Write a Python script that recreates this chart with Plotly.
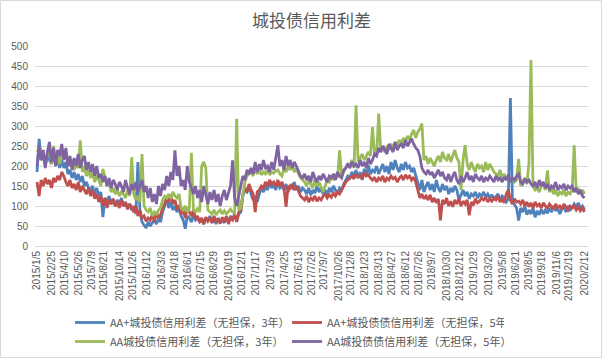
import pandas as pd
import plotly.graph_objects as go

start_date = "2015-01-05"

aa_plus_3y = [  # AA+城投债信用利差（无担保，3年）
    185, 268, 215, 225, 200, 230, 215, 205, 235, 200, 220, 195, 215,
    195, 210, 180, 190, 170, 185, 165, 180, 160, 175, 150, 160, 145,
    140, 150, 130, 145, 125, 135, 72, 120, 110, 125, 105, 118, 100,
    115, 105, 120, 100, 110, 95, 105, 90, 100, 80, 210, 85, 60,
    52, 45, 60, 50, 58, 65, 55, 68, 60, 85, 100, 118, 95,
    110, 90, 100, 85, 95, 75, 65, 43, 75, 70, 60, 77, 65,
    70, 60, 65, 55, 70, 62, 75, 58, 68, 55, 70, 60, 65,
    58, 70, 60, 75, 65, 78, 62, 80, 85, 125, 140, 135, 150,
    130, 115, 125, 110, 130, 145, 135, 150, 140, 160, 145, 155, 140,
    160, 145, 150, 140, 155, 135, 150, 145, 160, 140, 150, 135, 145,
    140, 130, 145, 127, 140, 132, 150, 135, 145, 130, 140, 127, 145,
    135, 150, 140, 130, 145, 140, 155, 165, 175, 170, 185, 175, 190,
    170, 185, 165, 193, 175, 202, 180, 190, 185, 200, 180, 195, 205,
    185, 200, 180, 210, 190, 215, 195, 185, 205, 190, 210, 195, 200,
    185, 195, 175, 160, 140, 165, 135, 150, 160, 140, 155, 135, 165,
    145, 135, 155, 140, 150, 130, 145, 135, 150, 140, 115, 130, 140,
    125, 135, 118, 130, 125, 135, 120, 130, 125, 135, 122, 130, 120,
    128, 118, 125, 130, 115, 125, 120, 110, 118, 370, 112, 105, 95,
    64, 95, 85, 100, 78, 90, 80, 95, 72, 88, 78, 92, 80,
    90, 82, 95, 85, 100, 88, 95, 80, 92, 98, 85, 100, 90,
    95, 105, 98, 108, 95, 100, 90,
]

aa_plus_5y = [  # AA+城投债债信用利差（无担保，5年）
    160, 125, 165, 150, 170, 155, 165, 145, 170, 160, 175, 165, 185,
    175, 160, 150, 165, 145, 155, 140, 160, 135, 150, 140, 130, 145,
    125, 140, 118, 130, 110, 125, 100, 120, 95, 115, 105, 118, 100,
    110, 95, 115, 100, 108, 92, 105, 95, 85, 100, 75, 90, 70,
    75, 62, 70, 65, 80, 60, 85, 70, 78, 95, 105, 120, 110,
    127, 105, 115, 95, 100, 80, 90, 70, 95, 85, 75, 90, 68,
    75, 60, 70, 55, 72, 62, 70, 58, 75, 60, 68, 56, 72,
    60, 75, 55, 70, 65, 80, 60, 85, 90, 130, 145, 135, 155,
    140, 130, 85, 135, 140, 150, 145, 160, 150, 165, 155, 160, 150,
    165, 150, 160, 145, 98, 150, 145, 155, 140, 150, 135, 125, 120,
    115, 125, 110, 120, 115, 125, 112, 120, 115, 125, 130, 120, 128,
    122, 132, 125, 135, 130, 140, 150, 160, 165, 170, 175, 168, 180,
    172, 175, 168, 185, 175, 178, 170, 165, 172, 160, 170, 165, 175,
    160, 170, 165, 175, 168, 172, 160, 170, 175, 165, 178, 170, 175,
    165, 172, 160, 140, 120, 130, 118, 125, 115, 128, 110, 120, 108,
    118, 64, 115, 105, 120, 100, 112, 98, 115, 105, 118, 100, 112,
    105, 115, 77, 110, 102, 118, 108, 112, 120, 115, 122, 110, 118,
    112, 120, 115, 125, 110, 118, 108, 130, 140, 115, 105, 118, 110,
    112, 105, 115, 100, 110, 98, 108, 95, 110, 100, 105, 95, 108,
    100, 95, 105, 98, 92, 105, 95, 100, 92, 105, 98, 90, 100,
    95, 100, 90, 98, 88, 95, 85,
]

aa_3y = [  # AA城投债信用利差（无担保，3年）
    235, 245, 240, 230, 215, 225, 240, 205, 250, 215, 230, 205, 235,
    220, 230, 210, 200, 215, 190, 205, 195, 264, 185, 200, 175, 190,
    170, 185, 160, 175, 165, 150, 193, 170, 150, 160, 135, 145, 130,
    140, 125, 135, 130, 120, 140, 125, 222, 130, 115, 125, 110, 230,
    100, 90, 85, 95, 75, 85, 80, 90, 95, 115, 125, 120, 130,
    118, 135, 125, 120, 130, 95, 90, 100, 85, 95, 233, 90, 85,
    95, 85, 200, 210, 195, 90, 85, 80, 90, 78, 85, 90, 80,
    88, 80, 85, 92, 85, 82, 318, 90, 95, 130, 160, 175, 180,
    185, 175, 195, 180, 190, 178, 185, 180, 190, 178, 185, 182, 188,
    190, 180, 175, 195, 185, 200, 190, 202, 185, 195, 180, 170, 165,
    160, 150, 165, 155, 145, 168, 150, 160, 145, 135, 150, 165, 160,
    175, 165, 180, 170, 239, 175, 185, 195, 205, 200, 215, 195, 352,
    210, 220, 230, 215, 225, 235, 225, 297, 230, 225, 331, 240, 245,
    235, 250, 240, 255, 245, 260, 250, 265, 255, 270, 260, 275, 265,
    280, 290, 270, 285, 293, 306, 215, 225, 205, 220, 210, 200, 215,
    225, 210, 235, 220, 215, 230, 210, 225, 240, 220, 210, 140, 215,
    252, 205, 190, 210, 195, 185, 205, 195, 200, 185, 210, 190, 205,
    195, 185, 180, 175, 190, 170, 180, 165, 175, 160, 170, 160, 165,
    218, 150, 160, 170, 155, 206, 465, 150, 140, 145, 135, 150, 155,
    140, 189, 135, 145, 130, 140, 125, 135, 130, 140, 125, 135, 130,
    140, 252, 135, 145, 130, 140, 130,
]

aa_5y = [  # AA城投债债信用利差（无担保，5年）
    200, 250, 215, 240, 195, 235, 260, 210, 245, 200, 240, 225, 255,
    215, 245, 200, 225, 190, 220, 200, 230, 195, 215, 225, 190, 210,
    185, 205, 175, 200, 170, 180, 160, 175, 150, 170, 145, 165, 155,
    140, 160, 150, 135, 165, 145, 130, 155, 140, 160, 135, 150, 165,
    135, 150, 120, 145, 110, 130, 105, 150, 125, 155, 140, 175, 150,
    185, 165, 239, 175, 200, 150, 165, 140, 200, 160, 145, 130, 150,
    120, 140, 110, 150, 125, 105, 135, 115, 140, 110, 130, 100, 125,
    140, 115, 135, 150, 214, 120, 100, 130, 150, 175, 165, 190, 180,
    195, 180, 210, 185, 205, 190, 215, 195, 200, 185, 210, 190, 220,
    252, 200, 215, 190, 225, 200, 215, 195, 210, 200, 185, 175, 170,
    180, 165, 175, 160, 185, 170, 160, 175, 165, 180, 170, 160, 175,
    170, 180, 165, 185, 175, 170, 190, 195, 205, 195, 210, 200, 205,
    195, 215, 200, 210, 195, 220, 205, 215, 230, 225, 245, 235, 250,
    240, 230, 255, 245, 235, 260, 240, 250, 255, 245, 265, 250, 260,
    268, 255, 245, 240, 225, 195, 185, 180, 190, 178, 185, 170, 180,
    190, 175, 185, 170, 165, 180, 160, 175, 185, 165, 155, 175, 160,
    170, 185, 165, 175, 160, 180, 170, 165, 175, 160, 170, 165, 175,
    168, 160, 175, 165, 170, 160, 172, 165, 178, 160, 170, 165, 175,
    180, 160, 155, 168, 160, 165, 155, 150, 160, 145, 165, 150, 160,
    145, 155, 140, 150, 145, 160, 140, 150, 145, 155, 140, 150, 145,
    150, 135, 145, 130, 140, 125, 120,
]

series_names = [
    "AA+城投债信用利差（无担保，3年）",
    "AA+城投债债信用利差（无担保，5年）",
    "AA城投债信用利差（无担保，3年）",
    "AA城投债债信用利差（无担保，5年）",
]
series_colors = ["#4F81BD", "#C0504D", "#9BBB59", "#8064A2"]

tick_labels = [
    "2015/1/5", "2015/2/25", "2015/4/10", "2015/5/26", "2015/7/9", "2015/8/21",
    "2015/10/14", "2015/11/26", "2016/1/12", "2016/3/3", "2016/4/18", "2016/6/1",
    "2016/7/15", "2016/8/29", "2016/10/19", "2016/12/1", "2017/1/17", "2017/3/9",
    "2017/4/25", "2017/6/13", "2017/7/26", "2017/9/7", "2017/10/26", "2017/12/8",
    "2018/1/23", "2018/3/13", "2018/4/27", "2018/6/12", "2018/7/26", "2018/9/7",
    "2018/10/30", "2018/12/12", "2019/1/29", "2019/3/20", "2019/5/8", "2019/6/21",
    "2019/8/5", "2019/9/18", "2019/11/6", "2019/12/19", "2020/2/12",
]

all_series = [aa_plus_3y, aa_plus_5y, aa_3y, aa_5y]
lengths = [len(s) for s in all_series]
if len(set(lengths)) != 1:
    raise ValueError(f"length mismatch: {lengths}")

dates = pd.date_range(start_date, periods=lengths[0], freq="7D")
tick_vals = [pd.Timestamp(t.replace("/", "-")) for t in tick_labels]

fig = go.Figure()
for name, color, vals in zip(series_names, series_colors, all_series):
    fig.add_trace(go.Scatter(
        x=dates, y=vals, mode="lines", name=name,
        line=dict(color=color, width=2.8),
    ))

W, H = 602, 358
ml, mr, mt, mb = 35, 14, 46, 112
pw, ph = W - ml - mr, H - mt - mb

fig.update_layout(
    template="none",
    width=W, height=H,
    margin=dict(l=ml, r=mr, t=mt, b=mb, autoexpand=False),
    paper_bgcolor="white", plot_bgcolor="white",
    title=dict(text="城投债信用利差", x=0.5, xanchor="center", xref="paper",
               y=1 - 21 / H, yanchor="middle",
               font=dict(family="Noto Sans CJK SC", size=17, color="#595959")),
    font=dict(family="Noto Sans CJK SC", color="#595959"),
    showlegend=True,
    legend=dict(orientation="h", x=(70 - ml) / pw, xanchor="left",
                y=-(308 - (mt + ph)) / ph, yanchor="top",
                font=dict(family="Noto Sans CJK SC", size=11, color="#595959"),
                entrywidth=172, entrywidthmode="pixels",
                bgcolor="rgba(0,0,0,0)"),
    xaxis=dict(type="date", range=["2014-12-29", "2020-02-22"], automargin=False,
               tickmode="array", tickvals=tick_vals, ticktext=tick_labels,
               tickangle=-90, tickfont=dict(family="Liberation Sans", size=10, color="#595959"),
               showgrid=False, showline=True, linecolor="#D9D9D9", linewidth=1,
               zeroline=False, ticks=""),
    yaxis=dict(range=[0, 500], dtick=50, tick0=0, automargin=False,
               tickfont=dict(family="Liberation Sans", size=10, color="#595959"),
               showgrid=True, gridcolor="#D9D9D9", gridwidth=1,
               zeroline=False, showline=False, ticks="", ticklabelstandoff=6),
    shapes=[dict(type="rect", xref="paper", yref="paper",
                 x0=(0.5 - ml) / pw, x1=(W - 0.5 - ml) / pw,
                 y0=-(H - 0.5 - (mt + ph)) / ph, y1=(mt + ph - 0.5) / ph,
                 line=dict(color="#D9D9D9", width=1), layer="below")],
)

fig.write_html(
    "out.html",
    config={"displayModeBar": False},
    post_script="document.body.style.margin='0';document.body.style.overflow='hidden';",
)
